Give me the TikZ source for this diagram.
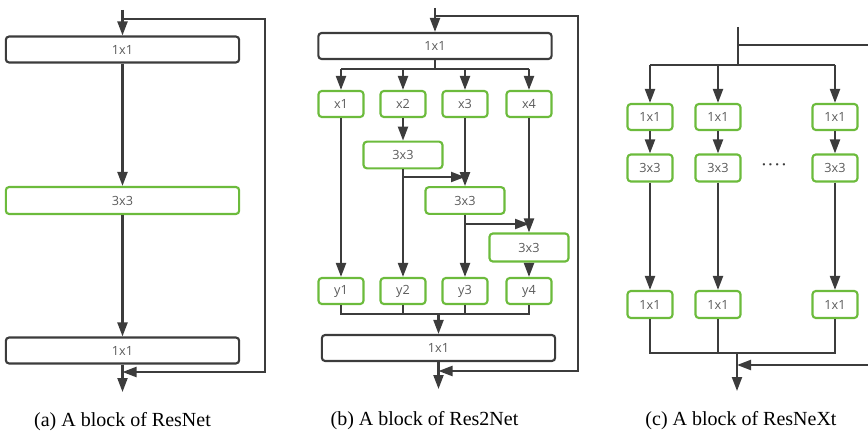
\documentclass[tikz,border=0pt]{standalone}
\usepackage{fontspec}
\setmainfont{Liberation Serif}
\newfontfamily\boxfont{Open Sans}
\usetikzlibrary{arrows.meta}
\definecolor{grn}{RGB}{108,187,60}
\definecolor{ink}{RGB}{60,60,60}
\definecolor{txt}{RGB}{90,90,90}
\tikzset{
  x=0.75pt, y=-0.75pt,
  blk/.style={draw, rounded corners=2.5pt, line width=1.6pt, inner sep=0pt, font=\boxfont\fontsize{9.5}{10}\selectfont, text=txt},
  kbox/.style={blk, draw=ink},
  gbox/.style={blk, draw=grn},
  widebox/.style={minimum width=175pt, minimum height=19.5pt},
  smallbox/.style={minimum width=33.75pt, minimum height=19.5pt},
  midbox/.style={minimum width=59.25pt, minimum height=20pt},
  ln/.style={draw=ink, line width=1.6pt},
  arr/.style={ln, -{Triangle[length=10.5pt, width=7.5pt]}},
  captxt/.style={anchor=base, font=\fontsize{15}{17}\selectfont},
}
\begin{document}
\begin{tikzpicture}
\useasboundingbox (0,0) rectangle (868,431);
% ---------- (a) ----------
\node[kbox, widebox] (a1) at (122.5,49.5) {1x1};
\node[gbox, widebox, minimum height=20.25pt] (a2) at (122.5,200.5) {3x3};
\node[kbox, widebox] (a3) at (122.5,350.5) {1x1};
\coordinate (ain) at (122.5,10);
\coordinate (afb) at (122.5,19);
\coordinate (afr1) at (265,19);
\coordinate (afr2) at (265,372);
\coordinate (aj) at (122.5,372);
\coordinate (aout) at (122.5,392);
\draw[arr] (ain) -- (a1.north);
\draw[arr] (a1.south) -- (a2.north);
\draw[arr] (a2.south) -- (a3.north);
\draw[arr] (a3.south) -- (aout);
\draw[arr] (afb) -- (afr1) -- (afr2) -- (aj);
\node[captxt] (capa) at (122.5,426) {(a) A block of ResNet};
% ---------- (b) ----------
\node[kbox, widebox] (b1) at (435,46) {1x1};
\node[gbox, smallbox] (x1) at (341,104) {x1};
\node[gbox, smallbox] (x2) at (403,104) {x2};
\node[gbox, smallbox] (x3) at (465,104) {x3};
\node[gbox, smallbox] (x4) at (529,104) {x4};
\node[gbox, midbox] (c1) at (403,155) {3x3};
\node[gbox, midbox] (c2) at (465,200.5) {3x3};
\node[gbox, midbox, minimum height=21pt] (c3) at (529,247.5) {3x3};
\node[gbox, smallbox] (y1) at (341,291) {y1};
\node[gbox, smallbox] (y2) at (403,291) {y2};
\node[gbox, smallbox] (y3) at (465,291) {y3};
\node[gbox, smallbox] (y4) at (529,291) {y4};
\node[kbox, widebox] (b2) at (438.5,348) {1x1};
\coordinate (bin) at (435,8);
\coordinate (bfb) at (435,16);
\coordinate (bfr1) at (578,16);
\coordinate (bfr2) at (578,371);
\coordinate (bj) at (438.5,371);
\coordinate (bout) at (438.5,389);
\coordinate (bs) at (435,69);
\coordinate (bsl) at (341,69);
\coordinate (bsr) at (529,69);
\coordinate (m1) at (403,177);
\coordinate (m2) at (465,224);
\coordinate (bb) at (438.5,314);
\coordinate (bbl) at (341,314);
\coordinate (bbr) at (529,314);
\draw[arr] (bin) -- (b1.north);
\draw[ln] (b1.south) -- (bs);
\draw[ln] (bsl) -- (bsr);
\draw[arr] (bsl) -- (x1.north);
\draw[arr] (x2.north |- bs) -- (x2.north);
\draw[arr] (x3.north |- bs) -- (x3.north);
\draw[arr] (bsr) -- (x4.north);
\draw[arr] (x2.south) -- (c1.north);
\draw[arr] (x3.south) -- (c2.north);
\draw[arr] (x4.south) -- (c3.north);
\draw[arr] (m1) -- (x3.south |- m1);
\draw[arr] (m2) -- (x4.south |- m2);
\draw[arr] (x1.south) -- (y1.north);
\draw[arr] (c1.south) -- (y2.north);
\draw[arr] (c2.south) -- (y3.north);
\draw[arr] (c3.south) -- (y4.north);
\draw[ln] (y1.south) -- (bbl) -- (bbr) -- (y4.south);
\draw[ln] (y2.south) -- (y2.south |- bb);
\draw[ln] (y3.south) -- (y3.south |- bb);
\draw[arr] (bb) -- (b2.north);
\draw[arr] (b2.south) -- (bout);
\draw[arr] (bfb) -- (bfr1) -- (bfr2) -- (bj);
\node[captxt] (capb) at (424.5,425) {(b) A block of Res2Net};
% ---------- (c) ----------
\node[gbox, smallbox] (p1) at (650,117) {1x1};
\node[gbox, smallbox] (p2) at (718,117) {1x1};
\node[gbox, smallbox] (p3) at (835,117) {1x1};
\node[gbox, smallbox, minimum height=20.25pt] (q1) at (650,168) {3x3};
\node[gbox, smallbox, minimum height=20.25pt] (q2) at (718,168) {3x3};
\node[gbox, smallbox, minimum height=20.25pt] (q3) at (835,168) {3x3};
\node[gbox, smallbox, minimum height=20.25pt] (r1) at (650,304.5) {1x1};
\node[gbox, smallbox, minimum height=20.25pt] (r2) at (718,304.5) {1x1};
\node[gbox, smallbox, minimum height=20.25pt] (r3) at (835,304.5) {1x1};
\node[font=\boxfont\bfseries\fontsize{10}{10}\selectfont, text=ink] (dots) at (774,167) {·\kern2.2pt·\kern2.2pt·\kern2.2pt·};
\coordinate (cin) at (738,27);
\coordinate (cs) at (738,65);
\coordinate (cfb) at (738,45);
\coordinate (cfr) at (870,45);
\coordinate (csl) at (650,65);
\coordinate (csr) at (835,65);
\coordinate (cbj) at (737,353);
\coordinate (cbl) at (650,353);
\coordinate (cbr) at (835,353);
\coordinate (cfr2) at (870,365);
\coordinate (cj) at (737,365);
\coordinate (cout) at (737,391);
\draw[ln] (cin) -- (cs);
\draw[ln] (cfb) -- (cfr);
\draw[ln] (csl) -- (csr);
\draw[arr] (csl) -- (p1.north);
\draw[arr] (p2.north |- cs) -- (p2.north);
\draw[arr] (csr) -- (p3.north);
\draw[arr] (p1.south) -- (q1.north);
\draw[arr] (p2.south) -- (q2.north);
\draw[arr] (p3.south) -- (q3.north);
\draw[arr] (q1.south) -- (r1.north);
\draw[arr] (q2.south) -- (r2.north);
\draw[arr] (q3.south) -- (r3.north);
\draw[ln] (r1.south) -- (cbl) -- (cbr) -- (r3.south);
\draw[ln] (r2.south) -- (r2.south |- cbj);
\draw[arr] (cbj) -- (cout);
\draw[arr] (cfr2) -- (cj);
\node[captxt] (capc) at (741,425) {(c) A block of ResNeXt};
\end{tikzpicture}
\end{document}
